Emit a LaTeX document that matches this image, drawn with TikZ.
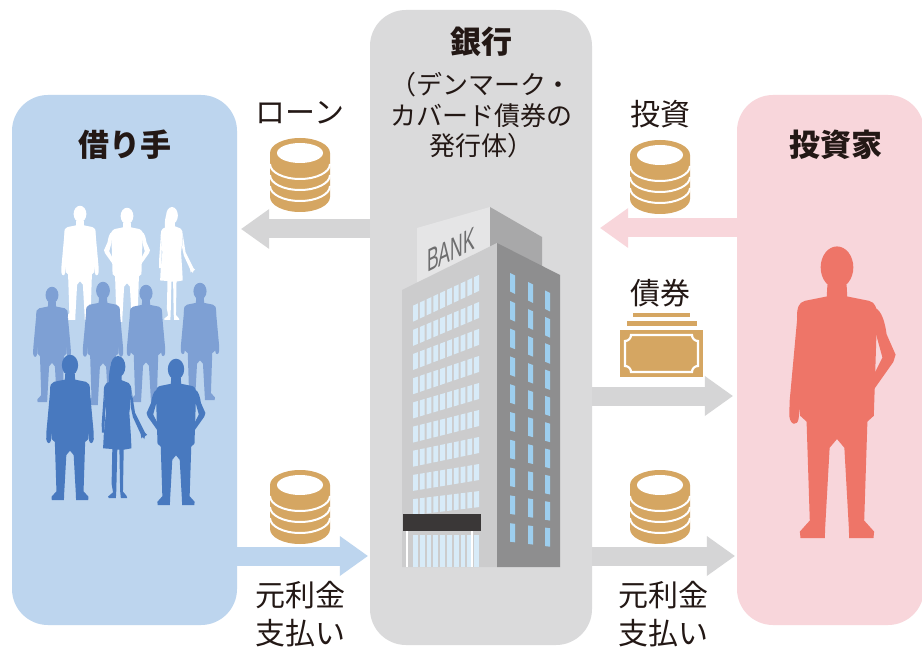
\documentclass[tikz,border=0pt]{standalone}
\usepackage{fontspec}
\setmainfont{Noto Sans CJK JP}
\newfontfamily\signfont{Liberation Sans}
\usetikzlibrary{arrows.meta,calc}

\definecolor{inkc}{RGB}{35,24,21}
\definecolor{panelB}{RGB}{189,213,238}
\definecolor{panelG}{RGB}{218,218,219}
\definecolor{panelP}{RGB}{248,214,219}
\definecolor{arrowG}{RGB}{213,213,214}
\definecolor{gold}{RGB}{213,166,98}
\definecolor{pplMid}{RGB}{126,160,212}
\definecolor{pplFront}{RGB}{72,121,191}
\definecolor{pplInv}{RGB}{238,117,104}
\definecolor{bldFront}{RGB}{204,204,205}
\definecolor{bldSide}{RGB}{142,142,143}
\definecolor{signFront}{RGB}{229,229,230}
\definecolor{signSide}{RGB}{168,168,169}
\definecolor{winFront}{RGB}{216,235,248}
\definecolor{winSide}{RGB}{157,206,238}
\definecolor{canopyc}{RGB}{58,55,55}
\definecolor{signText}{RGB}{110,110,111}

% silhouette pieces: figure height 100, feet at the origin, y pointing down
\newcommand\pplTorso{%
  \fill (-3,-87) -- (-3.2,-83) -- (-10,-81.5) .. controls (-12,-81) and (-12.5,-79) .. (-12.5,-76)
    -- (-11.5,-42) -- (-9.5,-40) -- (-8.5,-6) -- (-11.6,-2.2) -- (-11.4,0) -- (-3.8,0) -- (-3.7,-3.5)
    -- (-2.3,-31) -- (0,-34) -- (2.3,-31) -- (3.7,-3.5) -- (3.8,0) -- (11.4,0) -- (11.6,-2.2)
    -- (8.5,-6) -- (9.5,-40) -- (11.5,-42) -- (12.5,-76) .. controls (12.5,-79) and (12,-81) .. (10,-81.5)
    -- (3.2,-83) -- (3,-87) -- cycle;
  \fill (0,-93) ellipse[x radius=5.1,y radius=7.2];}
\newcommand\pplArmDown{%
  \fill (-12.3,-77) -- (-14.8,-47) -- (-14.9,-42) .. controls (-14.6,-38.5) and (-12.3,-38.5) .. (-12,-41)
    -- (-11.3,-47) -- (-11.3,-60) -- cycle;}
\newcommand\pplArmHip{%
  \fill (-12,-79) .. controls (-14,-78) and (-15,-74) .. (-15.5,-70) -- (-18.3,-63) -- (-17.6,-60.5)
    -- (-11.5,-51) -- (-9.8,-52.5) -- (-14.2,-62) -- (-12.2,-70) -- cycle;}

\tikzset{
  panel/.style={rectangle, rounded corners=36pt, inner sep=0pt, draw=none},
  flow/.style={line width=19pt, -{Triangle[width=40pt,length=28pt,line width=0pt]}},
  lbl/.style={font=\fontsize{30}{38}\selectfont, text=inkc, inner sep=0pt, align=center},
  headlbl/.style={font=\fontsize{31}{36}\selectfont\bfseries, text=inkc, inner sep=0pt},
  sublbl/.style={font=\fontsize{26}{30.5}\selectfont, text=inkc, inner sep=0pt, align=center},
  % stack of four coins, origin at the centre of the top face
  coins/.pic={
    \fill[gold] (-30,0) -- (-30,44) arc[start angle=180,end angle=0,x radius=30,y radius=15]
      -- (30,0) arc[start angle=0,end angle=-180,x radius=30,y radius=15] -- cycle;
    \foreach \k in {11,22,33}
      \draw[white,line width=2pt] (-30,\k) arc[start angle=180,end angle=0,x radius=30,y radius=15];
    \fill[white] (0,0) ellipse[x radius=23,y radius=10];
  },
  manDown/.pic={\begin{scope}[xscale=1.1]\pplTorso \pplArmDown \begin{scope}[xscale=-1]\pplArmDown\end{scope}\end{scope}},
  manHips/.pic={\begin{scope}[xscale=1.1]\pplTorso \pplArmHip \begin{scope}[xscale=-1]\pplArmHip\end{scope}\end{scope}},
  manMix/.pic={\begin{scope}[xscale=1.1]\pplTorso \pplArmDown \begin{scope}[xscale=-1]\pplArmHip\end{scope}\end{scope}},
  womanOut/.pic={
    \fill (0,-92.5) ellipse[x radius=5.2,y radius=7.5];
    \fill (-5.2,-93) .. controls (-6.5,-88) and (-6.8,-83) .. (-6,-79) -- (-2,-81) -- (0,-86) -- cycle;
    \fill (-2.5,-86) -- (-2.5,-83) -- (-8,-81) .. controls (-9.5,-80) and (-10,-78) .. (-10,-75)
      -- (-9,-64) -- (-8.5,-60) -- (-10,-45) -- (-10.5,-35) -- (-4,-34.5) -- (-4.5,-10) -- (-3.5,-4)
      -- (-7,-1) -- (-6.5,0) -- (-1.5,0) -- (-1.2,-5) -- (-0.5,-34) -- (1,-34) -- (1.5,-5) -- (2,0)
      -- (6.5,0) -- (6,-1.5) -- (3.5,-4.5) -- (4,-34) -- (9.5,-35) -- (9,-45) -- (8,-60) -- (8.5,-64)
      -- (9.5,-75) .. controls (9.5,-78) and (9,-80) .. (7.5,-81) -- (2.5,-83) -- (2.5,-86) -- cycle;
    \fill (-9.8,-76) -- (-11.5,-52) -- (-11.3,-46) -- (-9.8,-46) -- (-9.4,-52) -- (-9,-64) -- cycle;
    \fill (9.5,-76) -- (12,-60) -- (18,-48) -- (19,-46) -- (20.5,-44.5) -- (19,-43.5) -- (18.5,-41.5)
      -- (17.5,-43) -- (16.5,-42) -- (16,-45) -- (10.5,-57) -- (9,-64) -- cycle;
  },
}

\begin{document}
\begin{tikzpicture}[x=1pt,y=-1pt]
\useasboundingbox (0,0) rectangle (922,647);
\fill[white] (0,0) rectangle (922,647);

% three parties
\node[panel, fill=panelB, minimum width=225pt, minimum height=530pt] (bor) at (124.5,360) {};
\node[panel, fill=panelG, minimum width=222pt, minimum height=635pt] (bank) at (481,327.5) {};
\node[panel, fill=panelP, minimum width=187pt, minimum height=530pt] (inv) at (830.5,360) {};

% flow levels
\coordinate (yLoan) at (0,229);
\coordinate (yInv) at (0,228);
\coordinate (yBond) at (0,396);
\coordinate (yPay) at (0,556);

% flows of money and bonds
\draw[flow, arrowG] (bank.west |- yLoan) -- ($(bor.east |- yLoan)+(4,0)$);
\draw[flow, panelP] (inv.west |- yInv) -- ($(bank.east |- yInv)+(8,0)$);
\draw[flow, arrowG] (bank.east |- yBond) -- ($(inv.west |- yBond)+(-4,0)$);
\draw[flow, panelB] (bor.east |- yPay) -- ($(bank.west |- yPay)+(-2,0)$);
\draw[flow, arrowG] (bank.east |- yPay) -- ($(inv.west |- yPay)+(-2,0)$);

% coin stacks
\pic at (300,153) {coins};
\pic at (660,155) {coins};
\pic at (300,485) {coins};
\pic at (660,485) {coins};

% bond certificate
\fill[gold] (633,313) rectangle (690,317.5);
\fill[gold] (627,321) rectangle (697,326);
\fill[gold] (620,330) rectangle (703,377);
\draw[white, line width=2.2pt] (631,335) -- (692,335)
  arc[start angle=180,end angle=90,radius=6] -- (698,366)
  arc[start angle=-90,end angle=-180,radius=6] -- (631,372)
  arc[start angle=0,end angle=-90,radius=6] -- (625,341)
  arc[start angle=90,end angle=0,radius=6] -- cycle;
\fill[gold, rounded corners=11pt] (643,342.5) rectangle (680,366);

% labels
\node[lbl] (tLoan) at (300,113) {ローン};
\node[lbl] (tInvest) at (660,114) {投資};
\node[lbl] (tBond) at (660,293) {債券};
\node[lbl] (tPayL) at (300,614) {元利金\\支払い};
\node[lbl] (tPayR) at (663,614) {元利金\\支払い};
\node[headlbl] (hBor) at (125,145) {借り手};
\node[headlbl] (hBank) at (481,42) {銀行};
\node[sublbl] (hBankSub) at (481,115.5) {（デンマーク・\\カバード債券の\\発行体）};
\node[headlbl] (hInv) at (836,145) {投資家};

% bank building: rooftop sign
\fill[signFront] (417,228) -- (490,207) -- (490,290) -- (417,290) -- cycle;
\fill[signSide] (490,207) -- (542,237) -- (542,290) -- (490,290) -- cycle;
\begin{scope}[shift={(451,250)}]
  \node[transform shape, yslant=0.5, xscale=0.55, text=signText, inner sep=0pt,
        font=\signfont\fontsize{32}{32}\selectfont] (signtxt) at (0,0) {BANK};
\end{scope}
% tower faces
\fill[bldFront] (402,290) -- (497,243) -- (497,567) -- (402,567) -- cycle;
\fill[bldSide] (497,243) -- (560,275) -- (560,567) -- (497,567) -- cycle;
% front windows, one band per floor
\foreach \yl in {305.7,329.9,354.0,378.2,402.4,426.6,450.7,474.9,499.1} {
  \pgfmathsetmacro\m{-0.495*(567-\yl)/277}
  \foreach \j in {0,...,9} {
    \pgfmathsetmacro\xa{413+6.8*\j}
    \pgfmathsetmacro\xb{\xa+4.8}
    \pgfmathsetmacro\ya{\yl+\m*(\xa-413)}
    \pgfmathsetmacro\yb{\yl+\m*(\xb-413)}
    \fill[winFront] (\xa,\ya) -- (\xb,\yb) -- (\xb,\yb+16) -- (\xa,\ya+16) -- cycle;
  }
}
% ground floor glazing
\foreach \j in {0,...,9} {
  \pgfmathsetmacro\xa{413+6.8*\j}
  \fill[winFront] (\xa,535) rectangle ++(4.8,32);
}
% side windows
\foreach \r in {0,...,9} {
  \pgfmathsetmacro\tt{273+27.8*\r}
  \pgfmathsetmacro\s{0.5*(1-\r/12)}
  \foreach \xc in {510,528,545} {
    \pgfmathsetmacro\ya{\tt+\s*(\xc-510)}
    \pgfmathsetmacro\yb{\ya+\s*5}
    \fill[winSide] (\xc,\ya) -- (\xc+5,\yb) -- (\xc+5,\yb+18.5) -- (\xc,\ya+18.5) -- cycle;
  }
}
% entrance canopy and posts
\fill[canopyc] (403,514) rectangle (481,531);
\draw[white, line width=1.2pt] (407,531) -- (407,567);
\draw[white, line width=1.2pt] (472,531) -- (472,567);

% borrowers: back row
\pic[color=white, scale=1.14] at (80,320) {manDown};
\pic[color=white, scale=1.14] at (127,322) {manHips};
\pic[color=white, scale=1.13] at (172,320) {womanOut};
% middle row
\pic[color=pplMid, scale=1.15] at (52,402) {manDown};
\pic[color=pplMid, scale=1.23] at (103,405) {manDown};
\pic[color=pplMid, scale=1.17] at (146,402) {manDown};
\pic[color=pplMid, scale=1.17] at (200,400) {manDown};
% front row
\pic[color=pplFront, scale=1.45] at (70,500) {manDown};
\pic[color=pplFront, scale=1.42] at (118,498) {womanOut};
\pic[color=pplFront, scale=1.46] at (176,505) {manHips};

% investor
\pic[color=pplInv, scale=2.91] at (837,538) {manMix};
\end{tikzpicture}
\end{document}
